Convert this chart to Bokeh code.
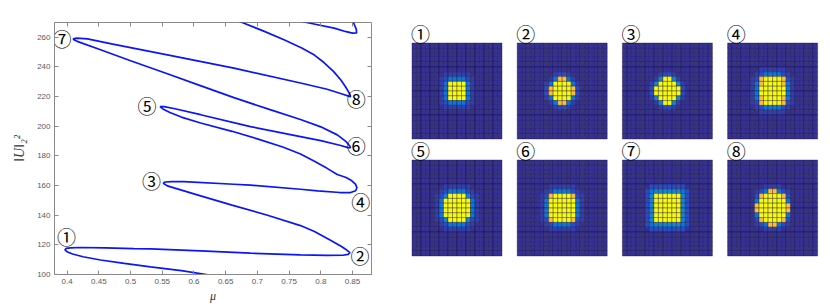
from bokeh.plotting import figure
from bokeh.layouts import row
from bokeh.models import ColumnDataSource, LinearAxis, Range1d, FixedTicker
from bokeh.transform import linear_cmap
from bokeh.core.properties import value
from bokeh.embed import file_html
from bokeh.resources import INLINE

# ---------------- data: continuation branch (mu, ||U||^2) ----------------
mu_main = [0.628, 0.6195, 0.58, 0.5315, 0.49, 0.4526, 0.425, 0.4085, 0.400, 0.3965,
           0.3985, 0.405, 0.421, 0.46, 0.505, 0.5315, 0.6105, 0.689, 0.768, 0.81,
           0.835, 0.843, 0.846, 0.841, 0.832, 0.816, 0.79, 0.768, 0.716, 0.66,
           0.6105, 0.575, 0.558, 0.5515, 0.5545, 0.565, 0.584, 0.663, 0.689, 0.768,
           0.795, 0.83, 0.847, 0.855, 0.857, 0.855, 0.849, 0.84, 0.826, 0.81,
           0.79, 0.768, 0.74, 0.70, 0.66, 0.6105, 0.58, 0.562, 0.551, 0.5465,
           0.553, 0.57, 0.6105, 0.689, 0.768, 0.80, 0.83, 0.843, 0.847, 0.846,
           0.84, 0.826, 0.80, 0.768, 0.72, 0.663, 0.61, 0.558, 0.50, 0.4526,
           0.4158, 0.4105, 0.4095, 0.415, 0.432, 0.47, 0.558, 0.663, 0.768, 0.81,
           0.835, 0.845, 0.847, 0.846, 0.84, 0.832, 0.82, 0.805, 0.79, 0.77,
           0.742, 0.71, 0.674, 0.665]
norm_main = [99.0, 100.0, 102.6, 105.2, 107.5, 109.8, 112.0, 113.8, 115.3, 116.6,
             117.6, 118.0, 118.2, 118.0, 117.5, 117.3, 115.9, 114.4, 113.2, 112.9,
             113.0, 113.6, 114.8, 116.5, 119.0, 123.0, 129.0, 133.0, 140.0, 146.8,
             153.0, 157.6, 159.8, 161.6, 162.4, 162.7, 162.6, 160.9, 160.3, 157.5,
             156.4, 155.3, 155.3, 156.5, 158.5, 160.8, 163.2, 165.4, 167.5, 171.6,
             176.4, 181.3, 186.0, 191.5, 196.6, 202.2, 206.2, 209.3, 211.7, 213.3,
             213.3, 211.8, 207.8, 199.8, 193.0, 190.3, 187.2, 185.6, 185.5, 186.5,
             189.6, 194.2, 199.6, 204.6, 211.2, 219.3, 227.4, 235.4, 244.2, 251.6,
             257.3, 258.4, 259.0, 259.5, 258.9, 255.6, 248.2, 239.2, 229.2, 225.0,
             221.6, 220.2, 220.0, 221.5, 226.0, 231.0, 237.0, 243.0, 248.0, 252.8,
             258.3, 264.2, 270.3, 272.0]
mu_top = [0.762, 0.772, 0.795, 0.821, 0.84, 0.85, 0.8565, 0.856, 0.853, 0.850]
norm_top = [272.0, 270.5, 268.5, 266.2, 263.8, 262.8, 263.0, 265.5, 268.5, 271.5]

labels = ["①", "②", "③", "④", "⑤", "⑥", "⑦", "⑧"]
label_mu = [0.399, 0.862, 0.533, 0.863, 0.526, 0.856, 0.392, 0.856]
label_norm = [125.9, 112.5, 163.2, 149.0, 213.7, 186.7, 259.1, 219.0]

x_ticks = [0.4, 0.45, 0.5, 0.55, 0.6, 0.65, 0.7, 0.75, 0.8, 0.85]
y_ticks = [100, 120, 140, 160, 180, 200, 220, 240, 260]

# ---------------- data: solution profiles (central 10x10 of a 20x20 grid) ----------------
level_of = {'.': 0.02, ',': 0.05, '-': 0.09, 'b': 0.20, 'c': 0.26, 'o': 0.83, 'y': 1.0}
profile_1 = ["..........", "..,,,,,,..", ".,-bbbb-,.", ".,byyyyb,.", ".,byyyyb,.",
             ".,byyyyb,.", ".,byyyyb,.", ".,-bbbb-,.", "..,,,,,,..", ".........."]
profile_2 = ["..........", "...,--,...", "..,boob,..", ".,byyyyb,.", ".-oyyyyo-.",
             ".-oyyyyo-.", ".,byyyyb,.", "..,boob,..", "...,--,...", ".........."]
profile_3 = ["..........", "...,--,...", "..,cyyc,..", ".,cyyyyc,.", ".-yyyyyy-.",
             ".-yyyyyy-.", ".,cyyyyc,.", "..,cyyc,..", "...,--,...", ".........."]
profile_4 = ["..,,,,,,..", ".,-bbbb-,.", ",-oyyyyo-,", ",boyyyyob,", ",byyyyyyb,",
             ",byyyyyyb,", ",boyyyyob,", ",-oyyyyo-,", ".,-bbbb-,.", "..,,,,,,.."]
profile_5 = ["..,,,,,,..", ".,-bbbb-,.", ",-cyyyyc-,", ",byyyyyyb,", ",byyyyyyb,",
             ",byyyyyyb,", ",byyyyyyb,", ",-cyyyyc-,", ".,-bbbb-,.", "..,,,,,,.."]
profile_6 = ["..,,,,,,..", ".,-bbbb-,.", ",-oyyyyo-,", ",byyyyyyb,", ",byyyyyyb,",
             ",byyyyyyb,", ",byyyyyyb,", ",-oyyyyo-,", ".,-bbbb-,.", "..,,,,,,.."]
profile_7 = [".--------.", "-bccccccb-", "-cyyyyyyc-", "-cyyyyyyc-", "-cyyyyyyc-",
             "-cyyyyyyc-", "-cyyyyyyc-", "-cyyyyyyc-", "-bccccccb-", ".--------."]
profile_8 = ["...,,,,...", ".,-boob-,.", ".-oyyyyo-.", ".byyyyyyb.", ".oyyyyyyo.",
             ".oyyyyyyo.", ".byyyyyyb.", ".-oyyyyo-.", ".,-boob-,.", "...,,,,..."]
profiles = [profile_1, profile_2, profile_3, profile_4,
            profile_5, profile_6, profile_7, profile_8]

# parula colour map (64 entries)
parula_rgb = [
    (0.2081, 0.1663, 0.5292), (0.2116, 0.1898, 0.5777), (0.2123, 0.2138, 0.6270), (0.2081, 0.2386, 0.6771),
    (0.1959, 0.2645, 0.7279), (0.1707, 0.2919, 0.7792), (0.1253, 0.3242, 0.8303), (0.0591, 0.3598, 0.8683),
    (0.0117, 0.3875, 0.8820), (0.0060, 0.4086, 0.8828), (0.0165, 0.4266, 0.8786), (0.0329, 0.4430, 0.8720),
    (0.0498, 0.4586, 0.8641), (0.0629, 0.4737, 0.8554), (0.0723, 0.4887, 0.8467), (0.0779, 0.5040, 0.8384),
    (0.0793, 0.5200, 0.8312), (0.0749, 0.5375, 0.8263), (0.0641, 0.5570, 0.8240), (0.0488, 0.5772, 0.8228),
    (0.0343, 0.5966, 0.8199), (0.0265, 0.6137, 0.8135), (0.0239, 0.6287, 0.8038), (0.0231, 0.6418, 0.7913),
    (0.0228, 0.6535, 0.7768), (0.0267, 0.6642, 0.7607), (0.0384, 0.6743, 0.7436), (0.0590, 0.6838, 0.7254),
    (0.0843, 0.6928, 0.7062), (0.1133, 0.7015, 0.6859), (0.1453, 0.7098, 0.6646), (0.1801, 0.7177, 0.6424),
    (0.2178, 0.7250, 0.6193), (0.2586, 0.7317, 0.5954), (0.3022, 0.7376, 0.5712), (0.3482, 0.7424, 0.5473),
    (0.3953, 0.7459, 0.5244), (0.4420, 0.7481, 0.5033), (0.4871, 0.7491, 0.4840), (0.5300, 0.7491, 0.4661),
    (0.5709, 0.7485, 0.4494), (0.6099, 0.7473, 0.4337), (0.6473, 0.7456, 0.4188), (0.6834, 0.7435, 0.4044),
    (0.7184, 0.7411, 0.3905), (0.7525, 0.7384, 0.3768), (0.7858, 0.7356, 0.3633), (0.8185, 0.7327, 0.3498),
    (0.8507, 0.7299, 0.3360), (0.8824, 0.7274, 0.3217), (0.9139, 0.7258, 0.3063), (0.9450, 0.7261, 0.2886),
    (0.9739, 0.7314, 0.2666), (0.9938, 0.7455, 0.2403), (0.9990, 0.7653, 0.2164), (0.9955, 0.7861, 0.1967),
    (0.9880, 0.8066, 0.1794), (0.9789, 0.8271, 0.1633), (0.9697, 0.8481, 0.1475), (0.9626, 0.8705, 0.1309),
    (0.9589, 0.8949, 0.1132), (0.9598, 0.9218, 0.0948), (0.9661, 0.9514, 0.0755), (0.9763, 0.9831, 0.0538)]
parula = ["#%02x%02x%02x" % tuple(int(round(c * 255)) for c in rgb) for rgb in parula_rgb]

GRAY = "#8a8a8a"
LABEL_GRAY = "#5a5a5a"
H = 308
TOP, BOTTOM = 22, 34      # shared frame borders (frames are aligned across the row)

# ---------------- left: bifurcation diagram ----------------
p1 = figure(width=392, height=H, x_range=Range1d(0.38, 0.88), y_range=Range1d(100, 270),
            output_backend="svg", toolbar_location=None,
            min_border_left=54, min_border_right=21, min_border_top=TOP, min_border_bottom=BOTTOM)
p1.grid.visible = False
p1.outline_line_color = GRAY
p1.outline_line_width = 1
p1.background_fill_color = "white"

p1.xaxis.ticker = FixedTicker(ticks=x_ticks)
p1.yaxis.ticker = FixedTicker(ticks=y_ticks)
for ax in (p1.xaxis[0], p1.yaxis[0]):
    ax.major_tick_in = 4
    ax.major_tick_out = 0
    ax.minor_tick_line_color = None
    ax.axis_line_color = GRAY
    ax.major_tick_line_color = GRAY
    ax.major_label_text_color = LABEL_GRAY
    ax.major_label_text_font = "Liberation Sans"
    ax.major_label_text_font_size = "8px"
    ax.major_label_standoff = 4
    ax.axis_label_text_font = "Liberation Serif"
    ax.axis_label_text_font_style = "italic"
    ax.axis_label_text_color = "#333333"
p1.xaxis.axis_label = "μ"
p1.xaxis.axis_label_text_font_size = "12px"
p1.xaxis.axis_label_standoff = 2
p1.yaxis.axis_label = "‖U‖₂²"
p1.yaxis.axis_label_text_font_size = "14px"
p1.yaxis.axis_label_standoff = 7

top_ax = LinearAxis(ticker=FixedTicker(ticks=x_ticks), major_label_text_color=None,
                    major_label_text_font_size="8px",
                    major_tick_in=4, major_tick_out=0, minor_tick_line_color=None,
                    axis_line_color=None, major_tick_line_color=GRAY, major_label_standoff=0)
right_ax = LinearAxis(ticker=FixedTicker(ticks=y_ticks), major_label_text_color=None,
                      major_label_text_font_size="8px",
                      major_tick_in=4, major_tick_out=0, minor_tick_line_color=None,
                      axis_line_color=None, major_tick_line_color=GRAY, major_label_standoff=0)
p1.add_layout(top_ax, "above")
p1.add_layout(right_ax, "right")

p1.line(mu_main, norm_main, line_color="#0a14ff", line_width=1.7)
p1.line(mu_top, norm_top, line_color="#0a14ff", line_width=1.7)

lab_src = ColumnDataSource(dict(x=label_mu, y=label_norm, t=labels))
p1.text(x="x", y="y", text="t", source=lab_src, text_font=value("Noto Sans CJK JP"),
        text_font_size="19px", text_align="center", text_baseline="middle", text_color="black")

# ---------------- right: 8 solution profiles ----------------
CW, CH = 4.5, 4.8          # cell size in px
N = 20
W2 = 830 - 392
FH = H - TOP - BOTTOM      # frame height in px
pitch_x = 105.2 / CW
pitch_y = 117.0 / CH
x0 = -19.5 / CW
y0 = -(H - BOTTOM - 255.5) / CH
p2 = figure(width=W2, height=H,
            x_range=Range1d(x0, x0 + W2 / CW),
            y_range=Range1d(y0, y0 + FH / CH),
            output_backend="svg", toolbar_location=None,
            min_border_left=0, min_border_right=0,
            min_border_top=TOP, min_border_bottom=BOTTOM,
            x_axis_location=None, y_axis_location=None)
p2.grid.visible = False
p2.outline_line_color = None

xs, ys, vs = [], [], []
lx, ly, lt = [], [], []
for k, prof in enumerate(profiles):
    ox = (k % 4) * pitch_x
    oy = (1 - k // 4) * pitch_y
    pad = (N - len(prof)) // 2
    for r in range(N):
        for c in range(N):
            rr, cc = r - pad, c - pad
            ch = prof[rr][cc] if 0 <= rr < len(prof) and 0 <= cc < len(prof) else '.'
            xs.append(ox + c + 0.5)
            ys.append(oy + (N - 1 - r) + 0.5)
            vs.append(level_of[ch])
    lx.append(ox + 1.9)
    ly.append(oy + N + 2.0)
    lt.append(labels[k])

src = ColumnDataSource(dict(x=xs, y=ys, v=vs))
p2.rect(x="x", y="y", width=1, height=1, source=src,
        fill_color=linear_cmap("v", parula, 0, 1), line_color="#0c0c30",
        line_alpha=0.6, line_width=0.6)
p2.text(x=lx, y=ly, text=lt, text_font=value("Noto Sans CJK JP"), text_font_size="19px",
        text_align="center", text_baseline="middle", text_color="black")

layout = row(p1, p2)
open("out.html", "w").write(file_html(layout, INLINE))
